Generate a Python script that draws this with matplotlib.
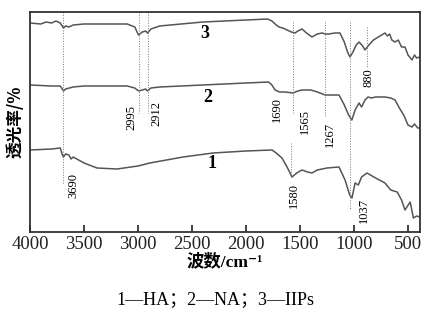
import matplotlib
matplotlib.use("Agg")
import matplotlib.pyplot as plt

plt.rcParams['font.family'] = ['Liberation Serif', 'Noto Sans CJK SC', 'DejaVu Sans']

# 数据（y 为相对透光率，任意单位，越大越高）
wn3 = [4000, 3900, 3850, 3800, 3760, 3720, 3690, 3670, 3640, 3600, 3500, 3300, 3100, 3030, 2995,
       2960, 2930, 2912, 2880, 2800, 2600, 2400, 2200, 2000, 1800, 1760, 1720, 1694, 1660, 1620,
       1580, 1546, 1520, 1481, 1440, 1389, 1340, 1296, 1267, 1231, 1180, 1130, 1090, 1060, 1037,
       1010, 980, 953, 920, 898, 870, 820, 760, 713, 690, 670, 650, 620, 590, 560, 528, 500, 463,
       440, 420, 390]
t3 = [23, 24, 22, 23, 21, 23, 28, 26, 27, 25, 24, 24, 24, 27, 35,
      32, 31, 33, 29, 26, 24, 22, 21, 20, 19, 21, 25, 27, 28, 30,
      32, 33, 31, 29, 33, 37, 34, 33, 34, 34, 33, 33, 42, 52, 57,
      52, 45, 42, 46, 50, 46, 40, 36, 33, 36, 34, 40, 42, 40, 47, 47, 55, 60,
      55, 58, 57]

wn2 = [4000, 3800, 3720, 3690, 3670, 3600, 3500, 3300, 3100, 3030, 2995, 2960, 2930, 2912, 2880,
       2800, 2600, 2400, 2200, 2000, 1790, 1760, 1731, 1690, 1640, 1565, 1520, 1481, 1400, 1340,
       1267, 1200, 1139, 1090, 1050, 1020, 990, 953, 930, 898, 870, 840, 800, 713, 660, 620,
       580, 540, 500, 463, 440, 410, 390]
t2 = [85, 86, 86, 91, 89, 87, 86, 86, 86, 88, 91, 90, 89, 91, 88,
      87, 86, 85, 84, 83, 82, 85, 90, 92, 92, 93, 91, 90, 90, 92,
      95, 95, 95, 105, 115, 120, 110, 103, 107, 100, 97, 98, 97, 97, 98, 100,
      108, 115, 125, 127, 124, 128, 128]

wn1 = [4000, 3800, 3720, 3700, 3690, 3670, 3640, 3620, 3600, 3500, 3380, 3195, 3000, 2890, 2583,
       2305, 2000, 1759, 1720, 1667, 1620, 1574, 1530, 1481, 1430, 1389, 1340, 1250, 1139, 1083,
       1040, 1019, 990, 960, 930, 880, 800, 713, 660, 600, 560, 528, 480, 450, 420, 390]
t1 = [150, 149, 148, 155, 157, 154, 155, 159, 157, 163, 168, 169, 166, 163, 157,
      153, 151, 150, 153, 158, 167, 177, 173, 170, 172, 173, 170, 168, 167, 180,
      195, 198, 183, 185, 177, 173, 178, 183, 190, 192, 200, 210, 202, 218, 216, 217]

# 标注峰位及文字位置 (峰位, 文字x, 文字y)
peak_lab = [(3690, 3602, 186), (2995, 3065, 117), (2912, 2833, 114), (1690, 1713, 110),
            (1565, 1454, 122), (1267, 1222, 134), (880, 870, 78), (1580, 1556, 195), (1037, 907, 210)]
# 虚线 (峰位, y起, y止)
vl = [(3690, 12, 183), (2995, 12, 113), (2912, 12, 113), (1565, 22, 113), (1267, 22, 117),
      (1037, 22, 210), (880, 27, 67), (1580, 143, 177)]

ytop = 232
fig = plt.figure(figsize=(4.25, 3.2), dpi=100)
ax = fig.add_axes([30 / 425, 1 - 232 / 320, 390 / 425, 220 / 320])
c = '#555555'
for w, t in [(wn1, t1), (wn2, t2), (wn3, t3)]:
    ax.plot(w, [ytop - v for v in t], color=c, lw=1.1)

for w, y0, y1 in vl:
    ax.plot([w, w], [ytop - y0, ytop - y1], color='#777777', ls=':', lw=0.7)

for p, w, y in peak_lab:
    ax.text(w, ytop - y, str(p), rotation=90, ha='center', va='center', fontsize=9)

for s, w, y in [('3', 2380, 33), ('2', 2350, 98), ('1', 2315, 163)]:
    ax.text(w, ytop - y, s, fontsize=13, fontweight='bold', ha='center', va='center')

ax.set_xlim(4000, 389)
ax.set_ylim(0, 220)
ax.set_xticks([4000, 3500, 3000, 2500, 2000, 1500, 1000, 500])
ax.tick_params(axis='x', direction='in', length=5, width=1.2, labelsize=13.5, pad=3, colors='#222222')
ax.set_yticks([])
for sp in ax.spines.values():
    sp.set_linewidth(1.3)
    sp.set_color('#333333')

ax.set_xlabel('波数/cm⁻¹', fontsize=12.5, fontweight='bold', labelpad=0)
ax.set_ylabel('透光率/%', fontsize=12, fontweight='bold',
              family=['Noto Sans CJK SC', 'DejaVu Sans'], labelpad=4)
fig.text(215 / 425, 1 - 300 / 320, '1—HA；2—NA；3—IIPs', ha='center', va='center', fontsize=13)

fig.savefig('out.png', dpi=100)
